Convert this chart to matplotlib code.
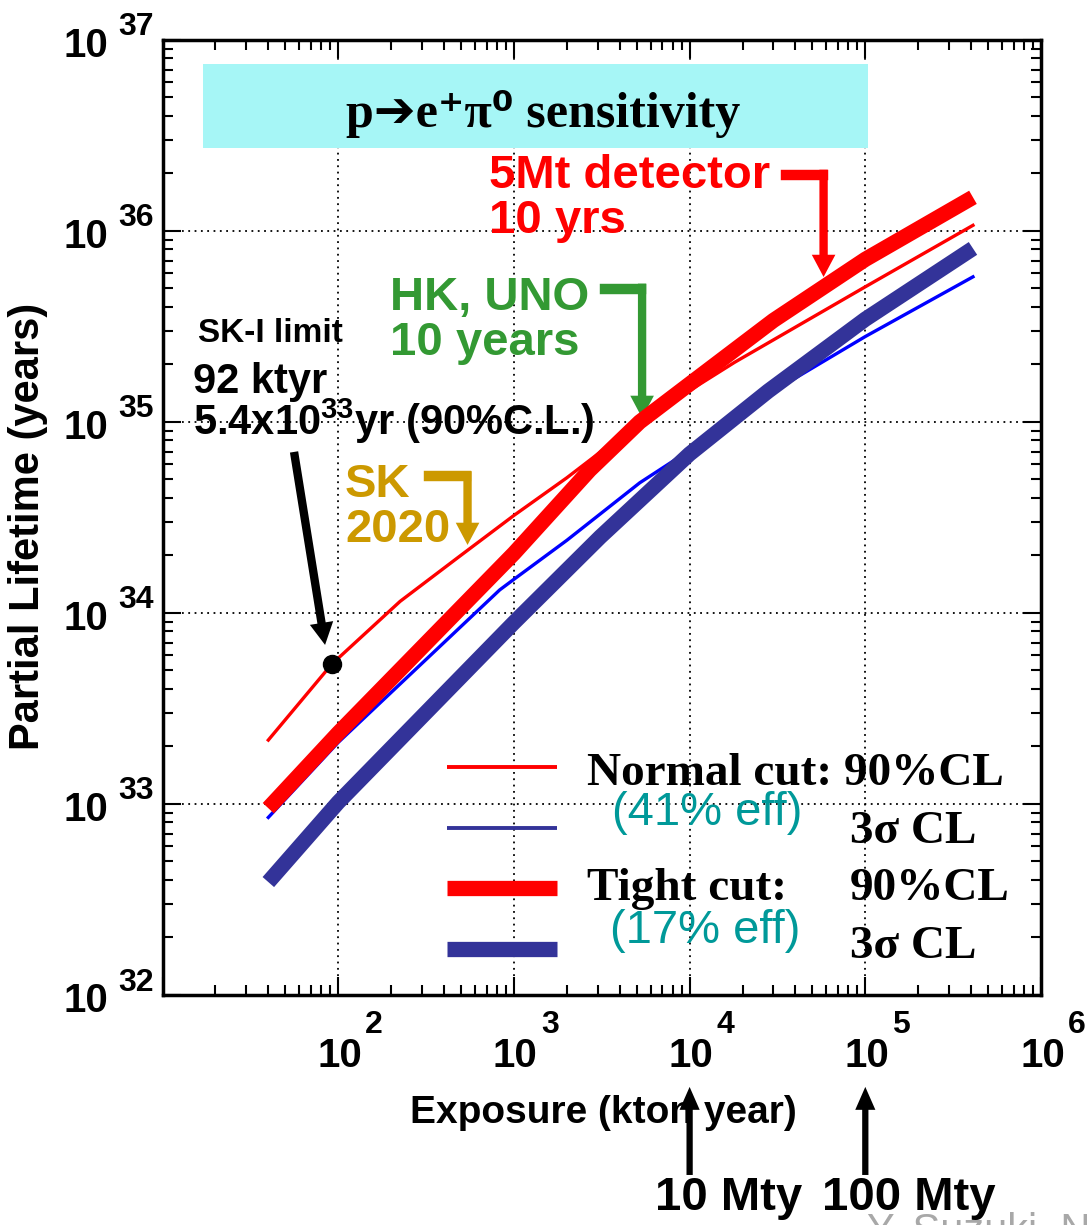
import matplotlib
matplotlib.use("Agg")
import matplotlib.pyplot as plt
from matplotlib.patches import Rectangle

plt.rcParams['font.family'] = ['Liberation Sans', 'DejaVu Sans']
plt.rcParams['font.weight'] = 'bold'
plt.rcParams['mathtext.fontset'] = 'custom'
plt.rcParams['mathtext.bf'] = 'Liberation Sans:bold'
plt.rcParams['mathtext.rm'] = 'Liberation Sans:bold'

SERIF = ['Liberation Serif', 'DejaVu Sans']

# exposure (kton*year) -> p -> e+ pi0 partial lifetime sensitivity (years)
normal_90_exp = [40, 92, 225, 480, 1000, 2000, 5200, 10000, 18000, 100000, 410000]
normal_90_tau = [2.16e33, 5.4e33, 1.15e34, 1.95e34, 3.24e34, 5.1e34, 1.0e35, 1.46e35,
                 2.05e35, 5.1e35, 1.07e36]

normal_3s_exp = [40, 100, 830, 1000, 2000, 5200, 10000, 30000, 100000, 410000]
normal_3s_tau = [8.5e32, 2.1e33, 1.32e34, 1.5e34, 2.4e34, 4.8e34, 7.1e34, 1.45e35,
                 2.8e35, 5.75e35]

tight_90_exp = [40, 100, 1000, 2700, 5200, 10000, 30000, 100000, 410000]
tight_90_tau = [9.5e32, 2.35e33, 2.05e34, 5.6e34, 1.0e35, 1.58e35, 3.4e35, 7.1e35, 1.5e36]

tight_3s_exp = [40, 100, 1000, 3100, 10000, 28000, 100000, 410000]
tight_3s_tau = [3.9e32, 1.02e33, 8.9e33, 2.5e34, 6.8e34, 1.45e35, 3.45e35, 8.1e35]

# SK-I measured limit
sk1_exposure = 92
sk1_limit = 5.4e33

x_exponents = [2, 3, 4, 5, 6]
y_exponents = [32, 33, 34, 35, 36, 37]
mty_marks = [1e4, 1e5]
mty_labels = ['10 Mty', '100 Mty']

RED = '#ff0000'
BLUE = '#0000ff'
NAVY = '#333399'
GREEN = '#339933'
GOLD = '#cc9900'
TEAL = '#009999'


def straight_arrow(ax, start, tip, color, coords, shaft=6, head_w=17, head_l=16):
    style = f'simple,head_length={head_l},head_width={head_w},tail_width={shaft}'
    ax.annotate('', xy=tip, xytext=start, xycoords=coords, textcoords=coords,
                arrowprops=dict(arrowstyle=style, mutation_scale=1, color=color,
                                lw=0, shrinkA=0, shrinkB=0),
                annotation_clip=False)


def bent_arrow(ax, x0, x1, y_bar, tip_y, color, bar=7.5):
    # horizontal stub from the label, then straight down onto the curve
    ax.plot([x0, x1], [y_bar, y_bar], transform=ax.transAxes, color=color,
            lw=bar, solid_capstyle='projecting', zorder=6)
    top = y_bar + 0.0055
    straight_arrow(ax, (x1 + 0.0012, top), (x1 + 0.0012, tip_y), color, ax.transAxes)


fig = plt.figure(figsize=(10.88, 12.25), dpi=100)
ax = fig.add_axes([0.1494, 0.1878, 0.8074, 0.7796])
ax.set_xscale('log')
ax.set_yscale('log')
ax.set_xlim(1e1, 1e6)
ax.set_ylim(1e32, 1e37)

ax.set_xticks([1e1] + [10.0 ** e for e in x_exponents])
ax.set_yticks([10.0 ** e for e in y_exponents])
ax.minorticks_on()
ax.xaxis.set_major_formatter(plt.NullFormatter())
ax.yaxis.set_major_formatter(plt.NullFormatter())
ax.xaxis.set_minor_formatter(plt.NullFormatter())
ax.yaxis.set_minor_formatter(plt.NullFormatter())
ax.tick_params(which='both', direction='in', top=True, right=True, width=1.5)
ax.tick_params(which='major', length=13)
ax.tick_params(which='minor', length=7)
for sp in ax.spines.values():
    sp.set_linewidth(2.5)

# ROOT-style "10" + raised exponent labels
xax = ax.get_xaxis_transform()
yax = ax.get_yaxis_transform()
for e in x_exponents:
    ax.annotate('10', xy=(10.0 ** e, 0), xycoords=xax, xytext=(1, -52),
                textcoords='offset points', ha='center', va='baseline',
                fontsize=29, annotation_clip=False)
    ax.annotate(str(e), xy=(10.0 ** e, 0), xycoords=xax, xytext=(19.5, -27.5),
                textcoords='offset points', ha='left', va='baseline',
                fontsize=23, annotation_clip=False)
for e in y_exponents:
    ax.annotate('10', xy=(0, 10.0 ** e), xycoords=yax, xytext=(-39, -12.2),
                textcoords='offset points', ha='right', va='baseline',
                fontsize=29, annotation_clip=False)
    ax.annotate(str(e), xy=(0, 10.0 ** e), xycoords=yax, xytext=(-32, 3.2),
                textcoords='offset points', ha='left', va='baseline',
                fontsize=23, annotation_clip=False)

ax.grid(True, which='major', color='k', linestyle=(0, (1, 2.5)), linewidth=1.3)

ax.set_xlabel('Exposure (kton year)', fontsize=28, fontweight='bold')
ax.xaxis.set_label_coords(0.5014, -0.105)
ax.set_ylabel('Partial Lifetime (years)', fontsize=30, fontweight='bold')
ax.yaxis.label.set_verticalalignment('center')
ax.yaxis.set_label_coords(-0.1535, 0.491)

# sensitivity curves
ax.plot(normal_90_exp, normal_90_tau, color=RED, lw=2.4, zorder=3)
ax.plot(normal_3s_exp, normal_3s_tau, color=BLUE, lw=2.4, zorder=3)
ax.plot(tight_90_exp, tight_90_tau, color=RED, lw=11, solid_capstyle='butt', zorder=4)
ax.plot(tight_3s_exp, tight_3s_tau, color=NAVY, lw=11, solid_capstyle='butt', zorder=4)
ax.plot([sk1_exposure], [sk1_limit], 'o', color='k', ms=13, zorder=5)

# title box
ax.add_patch(Rectangle((0.0461, 0.887), 0.757, 0.088, transform=ax.transAxes,
                       facecolor='#a6f6f6', edgecolor='none', zorder=2))
ax.text(0.4331, 0.9089, 'p\u2794e\u207a\u03c0\u2070 sensitivity', transform=ax.transAxes,
        ha='center', va='baseline', fontsize=36, fontweight='bold', family=SERIF, zorder=3)


def label_lines(x, ys, lines, color, size):
    for y, s in zip(ys, lines):
        ax.text(x, y, s, transform=ax.transAxes, ha='left', va='baseline',
                fontsize=size, fontweight='bold', color=color, zorder=6)


label_lines(0.3711, [0.8450, 0.7979], ['5Mt detector', '10 yrs'], RED, 34)
bent_arrow(ax, 0.7092, 0.7513, 0.8586, 0.7518, RED)

label_lines(0.2593, [0.7173, 0.6702], ['HK, UNO', '10 years'], GREEN, 34)
bent_arrow(ax, 0.5037, 0.5447, 0.7393, 0.6042, GREEN)

label_lines(0.2077, [0.5215, 0.4743], ['SK', '2020'], GOLD, 34)
bent_arrow(ax, 0.3028, 0.3460, 0.5429, 0.4712, GOLD)

label_lines(0.0404, [0.6838], ['SK-I limit'], 'k', 24)
label_lines(0.0347, [0.6304, 0.5864],
            ['92 ktyr', r'5.4x10$^{33}$yr (90%C.L.)'], 'k', 30)
straight_arrow(ax, (0.1497, 0.5686), (0.1850, 0.3665), 'k', ax.transAxes)

# legend
legend_rows = [
    (0.2387, RED, 2.8),
    (0.1749, NAVY, 2.8),
    (0.1120, RED, 11),
    (0.0482, NAVY, 11),
]
for y, c, w in legend_rows:
    ax.plot([0.3238, 0.4490], [y, y], transform=ax.transAxes, color=c, lw=w,
            solid_capstyle='butt', zorder=5)


def legend_text(x, y, s, **kw):
    opts = dict(transform=ax.transAxes, ha='left', va='baseline', fontsize=34,
                fontweight='bold', family=SERIF, zorder=6)
    opts.update(kw)
    ax.text(x, y, s, **opts)


legend_text(0.4832, 0.2199, 'Normal cut: 90%CL')
legend_text(0.7826, 0.1592, '3\u03c3 CL')
legend_text(0.4832, 0.0995, 'Tight cut:')
legend_text(0.7826, 0.0995, '90%CL')
legend_text(0.7826, 0.0387, '3\u03c3 CL')
legend_text(0.5117, 0.1780, '(41% eff)', family=['Liberation Sans'], fontweight='normal', color=TEAL)
legend_text(0.5094, 0.0545, '(17% eff)', family=['Liberation Sans'], fontweight='normal', color=TEAL)

# exposure markers below the axis
for xm in mty_marks:
    straight_arrow(ax, (xm, -0.1885), (xm, -0.0963), 'k', xax,
                   shaft=4.5, head_w=14.5, head_l=16.5)
ax.text(0.5606, -0.2251, mty_labels[0], transform=ax.transAxes, ha='left',
        va='baseline', fontsize=34, fontweight='bold')
ax.text(0.7507, -0.2251, mty_labels[1], transform=ax.transAxes, ha='left',
        va='baseline', fontsize=34, fontweight='bold')
fig.text(0.797, -0.005, 'Y. Suzuki, NO', ha='left', va='center', fontsize=30,
         fontweight='normal', color='#a8a8a8', zorder=0)

fig.savefig('out.png', dpi=100)
